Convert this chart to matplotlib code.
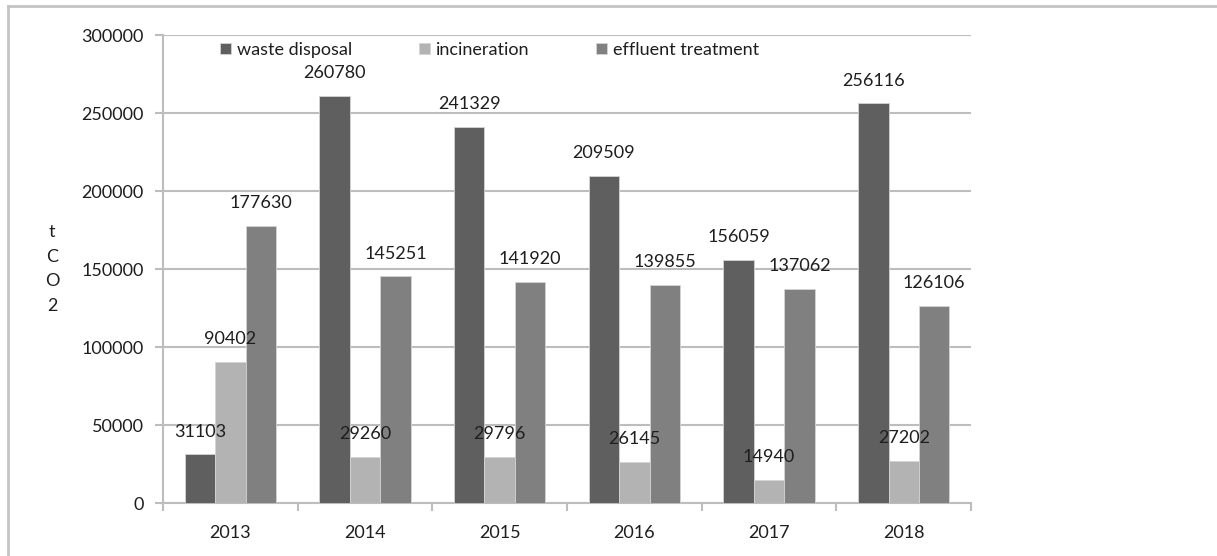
import numpy as np
import matplotlib
matplotlib.use('Agg')
import matplotlib.pyplot as plt
from matplotlib.lines import Line2D

plt.rcParams['font.family'] = ['Lato', 'DejaVu Sans']

# emissions per source, tCO2
years = ['2013', '2014', '2015', '2016', '2017', '2018']
waste_disposal = [31103, 260780, 241329, 209509, 156059, 256116]
incineration = [90402, 29260, 29796, 26145, 14940, 27202]
effluent_treatment = [177630, 145251, 141920, 139855, 137062, 126106]

series = [
    ('waste disposal', waste_disposal, '#5f5f5f'),
    ('incineration', incineration, '#b3b3b3'),
    ('effluent treatment', effluent_treatment, '#808080'),
]

fig = plt.figure(figsize=(12.17, 5.56), dpi=100)
ax = fig.add_axes([0.1339, 0.0953, 0.798 - 0.1339, 0.937 - 0.0953])

x = np.arange(len(years))
w = 0.226
fs = 13
txt = '#1e1e1e'

for i, (name, vals, col) in enumerate(series):
    pos = x + (i - 1) * w
    ax.bar(pos, vals, width=w, color=col, edgecolor='#d4d4d4', linewidth=0.6,
           label=name, zorder=3)
    for px, v in zip(pos, vals):
        ax.annotate(str(v), (px, v), xytext=(0, 16.5), textcoords='offset points',
                    ha='center', va='center', fontsize=fs, color=txt, zorder=4)

ax.set_xlim(-0.5, len(years) - 0.5)
ax.set_ylim(0, 300000)
ax.set_yticks(np.arange(0, 300001, 50000))
ax.set_yticklabels([str(v) for v in range(0, 300001, 50000)])
ax.set_xticks(x)
ax.set_xticklabels(years)
ax.set_xticks(np.arange(-0.5, len(years)), minor=True)

ax.grid(axis='y', color='#bdbdbd', linewidth=1.5, zorder=0)
for s in ['top', 'right']:
    ax.spines[s].set_visible(False)
for s in ['left', 'bottom']:
    ax.spines[s].set_color('#bdbdbd')
    ax.spines[s].set_linewidth(1.5)

ax.tick_params(axis='y', length=6, width=1.5, color='#bdbdbd', labelsize=fs,
               labelcolor=txt, pad=8)
ax.tick_params(axis='x', which='major', length=0, labelsize=fs, labelcolor=txt, pad=16)
ax.tick_params(axis='x', which='minor', length=6, width=1.5, color='#bdbdbd')

ax.set_ylabel('t\nC\nO\n2', rotation=0, fontsize=fs, color=txt, linespacing=1.65,
              ha='center', va='center')
ax.yaxis.set_label_coords(-0.137, 0.5)

ax.legend(loc='center left', bbox_to_anchor=(0.059, 0.968), ncol=3, frameon=False,
          fontsize=fs, handlelength=0.6, handleheight=0.6, handletextpad=0.35,
          columnspacing=3.7, borderpad=0, labelcolor=txt)

# outer frame (top and left edges)
fig.add_artist(Line2D([8 / 1217, 1], [1 - 6 / 556, 1 - 6 / 556], color='#c4c4c4',
                      linewidth=2, transform=fig.transFigure))
fig.add_artist(Line2D([8 / 1217, 8 / 1217], [0, 1 - 6 / 556], color='#c4c4c4',
                      linewidth=2, transform=fig.transFigure))

fig.savefig('out.png', dpi=100)
